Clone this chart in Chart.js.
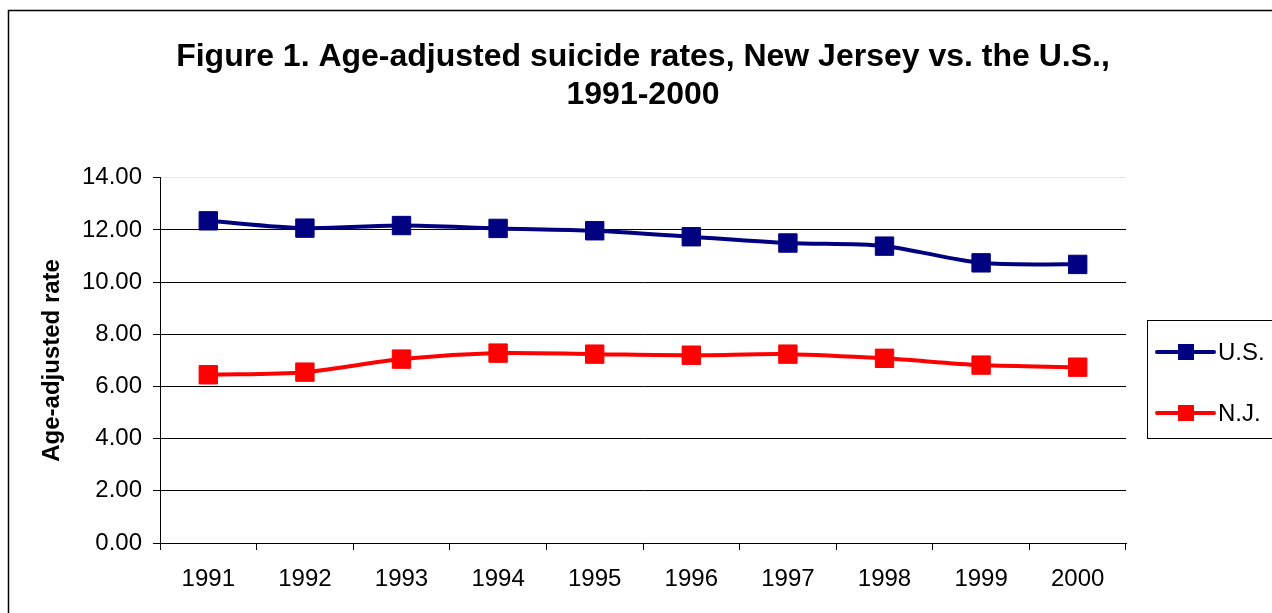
<!DOCTYPE html>
<html>
<head>
<meta charset="utf-8">
<script src="https://cdn.jsdelivr.net/npm/chart.js@4/dist/chart.umd.min.js"></script>
<style>
  html, body { margin: 0; padding: 0; background: #fff; }
  #wrap { width: 1272px; height: 613px; }
</style>
</head>
<body>
<div id="wrap"><canvas id="suicideChart" width="1272" height="613"></canvas></div>
<script>
// data
const years = ['1991', '1992', '1993', '1994', '1995', '1996', '1997', '1998', '1999', '2000'];
const usRates = [12.35, 12.07, 12.17, 12.06, 11.97, 11.74, 11.50, 11.38, 10.74, 10.68];
const njRates = [6.45, 6.55, 7.05, 7.28, 7.24, 7.20, 7.24, 7.08, 6.82, 6.74];
const yTicks = [0, 2, 4, 6, 8, 10, 12, 14];

const FONT = "'Liberation Sans', Arial, sans-serif";

// outer frame + boxed legend like the original
const framePlugin = {
  id: 'frame',
  beforeDraw(chart) {
    const c = chart.ctx;
    c.save();
    c.fillStyle = '#fff';
    c.fillRect(0, 0, chart.width, chart.height);
    c.strokeStyle = '#000';
    c.lineWidth = 1.5;
    c.strokeRect(8.5, 10.5, chart.width + 20, chart.height + 20);
    c.restore();
  },
  afterDraw(chart) {
    const c = chart.ctx;
    const left = chart.chartArea.right + 21;
    c.save();
    c.strokeStyle = '#000';
    c.lineWidth = 1;
    c.strokeRect(left + 0.5, 320.5, 200, 118);
    chart.data.datasets.forEach((ds, i) => {
      const y = 352 + i * 61;
      c.strokeStyle = ds.borderColor;
      c.lineWidth = 4;
      c.lineCap = 'round';
      c.beginPath();
      c.moveTo(left + 10, y);
      c.lineTo(left + 67, y);
      c.stroke();
      c.fillStyle = ds.borderColor;
      c.fillRect(left + 31, y - 8, 16, 16);
      c.fillStyle = '#000';
      c.font = '24px ' + FONT;
      c.textBaseline = 'middle';
      c.fillText(ds.label, left + 71, y + 1);
    });
    c.restore();
  }
};

new Chart(document.getElementById('suicideChart'), {
  type: 'line',
  data: {
    labels: years,
    datasets: [
      {
        label: 'U.S.',
        data: usRates,
        borderColor: '#000080',
        backgroundColor: '#000080',
        borderWidth: 4,
        tension: 0.3,
        pointStyle: 'rect',
        pointRadius: 13,
        pointBorderWidth: 1,
        fill: false
      },
      {
        label: 'N.J.',
        data: njRates,
        borderColor: '#ff0000',
        backgroundColor: '#ff0000',
        borderWidth: 4,
        tension: 0.3,
        pointStyle: 'rect',
        pointRadius: 13,
        pointBorderWidth: 1,
        fill: false
      }
    ]
  },
  options: {
    responsive: false,
    animation: false,
    layout: { padding: { top: 12, left: 10, right: 146, bottom: 0 } },
    plugins: {
      legend: { display: false },
      tooltip: { enabled: false },
      title: {
        display: true,
        fullSize: false,
        text: ['Figure 1. Age-adjusted suicide rates, New Jersey vs. the U.S.,', '1991-2000'],
        color: '#000',
        font: { family: FONT, size: 32, weight: 'bold', lineHeight: 1.2 },
        padding: { top: 26, bottom: 63 }
      }
    },
    scales: {
      x: {
        offset: true,
        grid: { offset: true, drawOnChartArea: false, drawTicks: true, tickLength: 7, tickColor: '#000', tickWidth: 1 },
        border: { color: '#000', width: 1 },
        ticks: { color: '#000', font: { family: FONT, size: 24 }, padding: 15, maxRotation: 0 },
        afterFit(scale) { scale.height = 70; }
      },
      y: {
        min: 0,
        max: 14,
        afterBuildTicks(scale) { scale.ticks = yTicks.map(v => ({ value: v })); },
        grid: {
          color: ctx => (ctx.tick && ctx.tick.value === 14 ? '#e6e6e6' : '#000'),
          lineWidth: 1,
          drawTicks: true,
          tickLength: 7,
          tickColor: '#000'
        },
        border: { color: '#000', width: 1 },
        ticks: {
          color: '#000',
          font: { family: FONT, size: 24 },
          padding: 11,
          callback: v => Number(v).toFixed(2)
        },
        title: {
          display: true,
          text: 'Age-adjusted rate',
          color: '#000',
          font: { family: FONT, size: 24, weight: 'bold' },
          padding: { top: 28, bottom: 0 }
        },
        afterFit(scale) { scale.width = 150; }
      }
    }
  },
  plugins: [framePlugin]
});
</script>
</body>
</html>
